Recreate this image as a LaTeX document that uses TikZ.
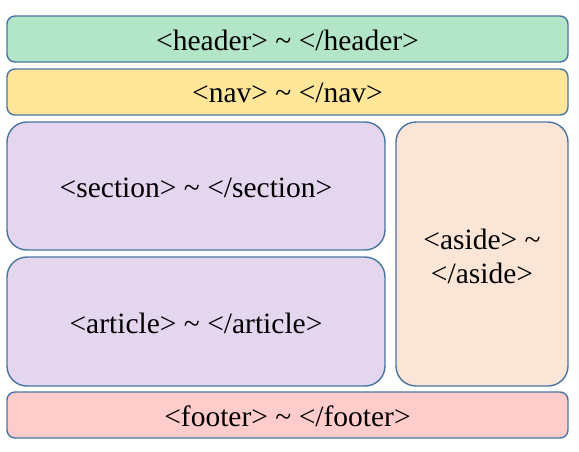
\documentclass[tikz,border=0pt]{standalone}
\usepackage{fontspec}
\newfontfamily\timesf{Liberation Serif}
\definecolor{bordc}{HTML}{4A74A0}
\definecolor{hdr}{HTML}{B3E6C8}
\definecolor{navc}{HTML}{FFE699}
\definecolor{secc}{HTML}{E3D6EE}
\definecolor{asdc}{HTML}{FBE5D6}
\definecolor{ftrc}{HTML}{FFCCCC}
\begin{document}
\begin{tikzpicture}[x=1pt,y=-1pt,
  blk/.style={draw=bordc,line width=1.4pt},
  lbl/.style={font=\timesf\fontsize{29.5}{34}\selectfont,align=center,inner sep=0pt}]
\useasboundingbox (0,0) rectangle (579,451);
\path[blk,fill=hdr,rounded corners=8pt] (7,16) rectangle (568,62);
\node[lbl] (header) at (287.5,40) {<header> \textasciitilde{} </header>};
\path[blk,fill=navc,rounded corners=8pt] (7,69) rectangle (568,115);
\node[lbl] (nav) at (287.5,93) {<nav> \textasciitilde{} </nav>};
\path[blk,fill=secc,rounded corners=20pt] (7,122) rectangle (385,250);
\node[lbl] (section) at (196,188) {<section> \textasciitilde{} </section>};
\path[blk,fill=secc,rounded corners=20pt] (7,257) rectangle (385,386);
\node[lbl] (article) at (196,323) {<article> \textasciitilde{} </article>};
\path[blk,fill=asdc,rounded corners=20pt] (396,122) rectangle (568,386);
\node[lbl] (aside) at (482,256) {<aside> \textasciitilde{}\\</aside>};
\path[blk,fill=ftrc,rounded corners=8pt] (7,392) rectangle (568,438);
\node[lbl] (footer) at (287.5,416) {<footer> \textasciitilde{} </footer>};
\end{tikzpicture}
\end{document}
